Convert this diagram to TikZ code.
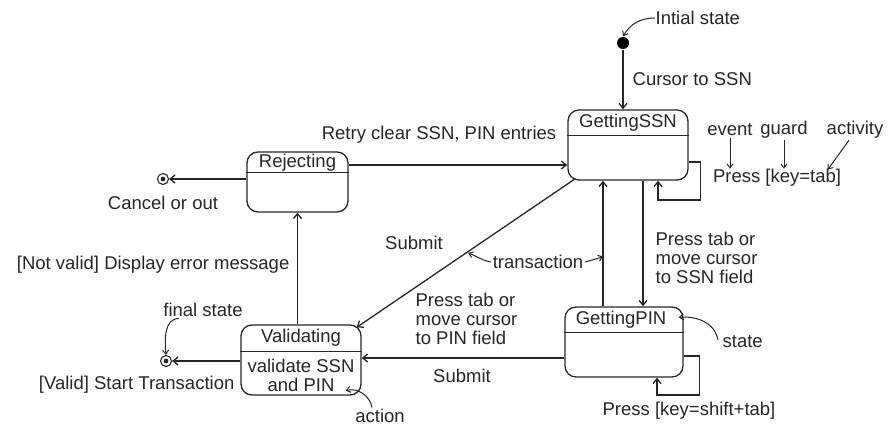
\documentclass[tikz,border=0pt]{standalone}
\usepackage{fontspec}
\setmainfont{Liberation Sans}
\usetikzlibrary{arrows.meta,calc}
\begin{document}
\begin{tikzpicture}[x=1pt,y=-1pt,
  line width=1.3pt, draw=black!85,
  >={Straight Barb[length=5pt,width=8pt]},
  every node/.style={font=\fontsize{18.5}{19}\selectfont, text=black!85},
  lbl/.style={inner sep=0pt, align=left},
  statebox/.style={draw, rectangle, rounded corners=11pt, inner sep=0pt},
  finalst/.style={circle, draw, line width=1.1pt, minimum size=11pt, inner sep=0pt,
    path picture={\fill[black!85] (path picture bounding box.center) circle (2.4pt);}},
  initst/.style={circle, fill=black, minimum size=12pt, inner sep=0pt},
  note/.style={->, line width=1pt, >={Straight Barb[length=4pt,width=6pt]}}]
\useasboundingbox (0,0) rectangle (888,428);

% ---- states ----
\node[statebox, minimum width=120pt, minimum height=70pt] (ssn) at (628,145) {};
\draw ([yshift=-26pt]ssn.north west) -- ([yshift=-26pt]ssn.north east);
\node[lbl] (ssnt) at (628,123) {GettingSSN};

\node[statebox, minimum width=101pt, minimum height=60pt] (rej) at (297.5,182) {};
\draw ([yshift=-21pt]rej.north west) -- ([yshift=-21pt]rej.north east);
\node[lbl] (rejt) at (297.5,163) {Rejecting};

\node[statebox, minimum width=120pt, minimum height=70pt] (val) at (301,360) {};
\draw ([yshift=-27pt]val.north west) -- ([yshift=-27pt]val.north east);
\node[lbl] (valt) at (301,338) {Validating};
\node[lbl, align=center] (vala) at (301,375) {validate SSN\\and PIN};

\node[statebox, minimum width=118pt, minimum height=70pt] (pin) at (624,342) {};
\draw ([yshift=-26pt]pin.north west) -- ([yshift=-26pt]pin.north east);
\node[lbl] (pint) at (621,320) {GettingPIN};

% ---- pseudo states ----
\node[initst] (init) at (623,43) {};
\node[finalst] (fin1) at (163,179) {};
\node[finalst] (fin2) at (166,361) {};

% ---- helper coordinates ----
\coordinate (hretry) at (0,165);
\coordinate (vl) at (603,0);
\coordinate (vr) at (643,0);

% ---- transitions ----
\draw[->] (init) -- (init |- ssn.north);
\draw[->] (rej.east |- hretry) -- (ssn.west |- hretry);
\draw[->] (rej.west |- fin1) -- (fin1);
\draw[->] (rej.south |- val.north) -- (rej.south);
\draw[->] (val.west |- fin2) -- (fin2);
\draw[->] ([xshift=8pt,yshift=2pt]ssn.south west) -- ([xshift=-5pt,yshift=-3pt]val.north east);
\draw[->] ([yshift=-16pt]pin.west) -- ([yshift=-16pt]pin.west -| val.east);
\draw[->] (pin.north -| vl) -- (ssn.south -| vl);
\draw[->] (ssn.south -| vr) -- (pin.north -| vr);
\draw[->] ([yshift=-17pt]ssn.east) -| ++(12,38) -| ([xshift=30pt]ssn.south);
\draw[->] ([yshift=-14pt]pin.east) -| ++(16,39) -| ([xshift=33pt]pin.south);

% ---- transition labels ----
\node[lbl, anchor=west] (curs) at (632,79) {Cursor to SSN};
\node[lbl] (retry) at (439,135) {Retry clear SSN, PIN entries};
\node[lbl] (cancel) at (163,203) {Cancel or out};
\node[lbl, anchor=east] (notvalid) at (290,265) {[Not valid] Display error message};
\node[lbl, anchor=east] (valid) at (235,385) {[Valid] Start Transaction};
\node[lbl] (sub1) at (414,243) {Submit};
\node[lbl] (sub2) at (462,376) {Submit};
\node[lbl, anchor=west] (pintab) at (415,319) {Press tab or\\move cursor\\to PIN field};
\node[lbl, anchor=west] (ssntab) at (655,258) {Press tab or\\move cursor\\to SSN field};
\node[lbl] (presstab) at (777,178) {Press [key=tab]};
\node[lbl] (pressshift) at (689,411) {Press [key=shift+tab]};

% ---- annotations ----
\node[lbl, anchor=west] (initl) at (655,18) {Intial state};
\node[lbl] (finl) at (203,310) {final state};
\node[lbl] (actl) at (380,416) {action};
\node[lbl, anchor=west] (statel) at (722,342) {state};
\node[lbl] (trans) at (538,262) {transaction};
\node[lbl] (ev) at (730,130) {event};
\node[lbl] (gd) at (784,130) {guard};
\node[lbl] (act) at (855,130) {activity};

\draw[note] (initl.west) to[out=180,in=60] (init.north);
\draw[note] ([xshift=-24pt,yshift=-1pt]finl.south) to[out=180,in=95] (fin2.north);
\draw[note] ([xshift=-8pt,yshift=1pt]actl.north) to[out=100,in=15] ([xshift=-16pt,yshift=5pt]val.south east);
\draw[note] ([xshift=-4pt,yshift=2pt]statel.west) to[out=100,in=5] ([xshift=-5pt,yshift=-11pt]pin.north east);
\draw[note] ([xshift=1pt]trans.east) to[out=15,in=200] ([yshift=-2pt]vl |- trans.north);
\draw[note] ([xshift=-1pt]trans.west) to[out=170,in=-20] ($(trans.west)+(-24,-9)$);
\draw[note] ([yshift=-1pt]ev.south) -- (ev.south |- presstab.north);
\draw[note] ([yshift=-1pt]gd.south) -- (gd.south |- presstab.north);
\draw[note] ([xshift=-6pt,yshift=-1pt]act.south) -- ([xshift=-14pt,yshift=-1pt]presstab.north east);
\end{tikzpicture}
\end{document}
